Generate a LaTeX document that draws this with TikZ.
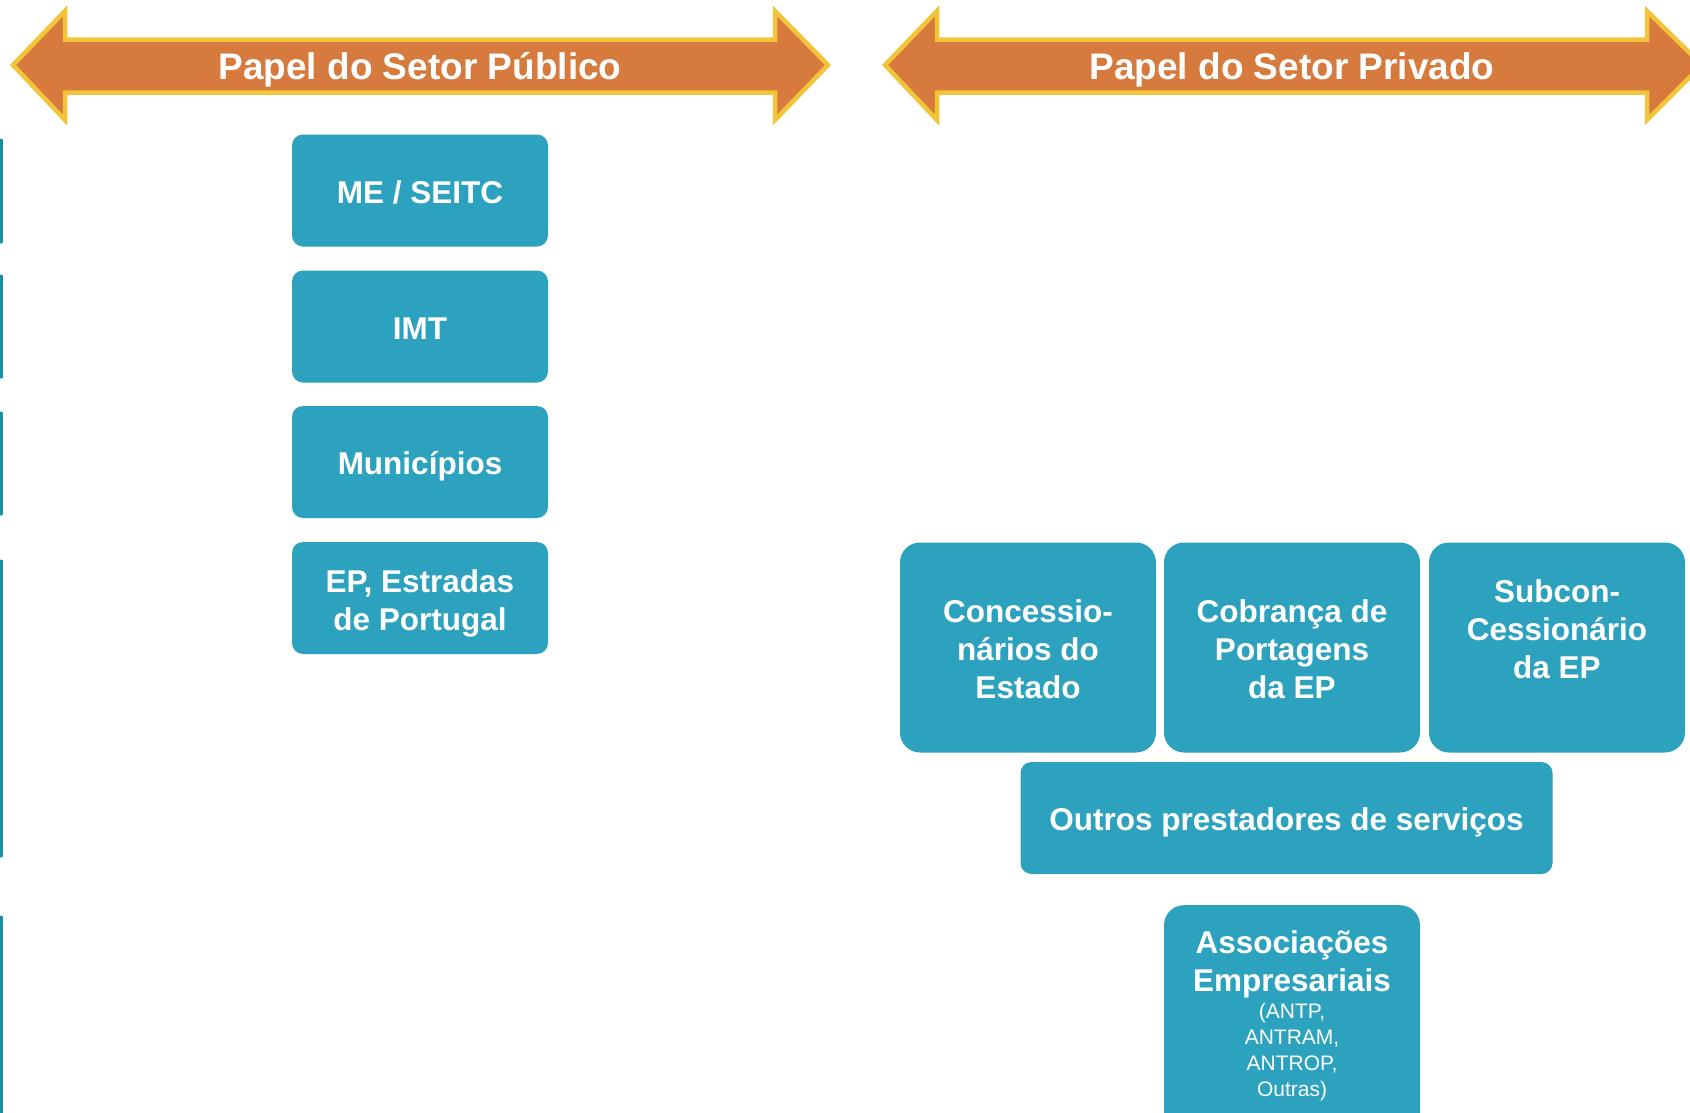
\documentclass[tikz,border=0pt]{standalone}
\usepackage{fontspec}
\setmainfont{Liberation Sans}
\definecolor{boxblue}{HTML}{2DA2BF}
\definecolor{edgeblue}{HTML}{1A90A8}
\definecolor{arroworange}{HTML}{D77A3E}
\definecolor{arrowyellow}{HTML}{F2C43A}
\tikzset{
  bigarrow/.style={fill=arroworange, draw=arrowyellow, line width=4.5pt, line join=miter},
  headtxt/.style={text=white, font=\fontsize{37}{44}\selectfont\bfseries, inner sep=0},
  bluebox/.style={fill=boxblue, draw=none, rounded corners=11pt, minimum width=256pt, minimum height=112pt, inner sep=0},
  bigbox/.style={fill=boxblue, draw=none, rounded corners=20pt, minimum width=256pt, minimum height=210pt, inner sep=0},
  boxtxt/.style={text=white, font=\fontsize{31.5}{38}\selectfont\bfseries, align=center, inner sep=0},
  smalltxt/.style={text=white, font=\fontsize{21}{26}\selectfont, align=center, inner sep=0},
  edgeline/.style={draw=edgeblue, line width=3pt, line cap=round}
}
\begin{document}
\begin{tikzpicture}[x=1pt,y=-1pt]
\clip (0,0) rectangle (1690,1112);
\fill[white] (0,0) rectangle (1690,1112);
% header arrows
\draw[bigarrow] (13,65) -- (65,11) -- (65,39.5) -- (775,39.5) -- (775,11) -- (828,65)
  -- (775,120) -- (775,92.5) -- (65,92.5) -- (65,120) -- cycle;
\node[headtxt] (pubhead) at (420,70.2) {Papel do Setor Público};
\draw[bigarrow] (885,65) -- (937,11) -- (937,39.5) -- (1647,39.5) -- (1647,11) -- (1702,65)
  -- (1647,120) -- (1647,92.5) -- (937,92.5) -- (937,120) -- cycle;
\node[headtxt] (privhead) at (1292,70.2) {Papel do Setor Privado};
% left edge lines
\coordinate (e1a) at (1,140); \coordinate (e1b) at (1,242);
\coordinate (e2a) at (1,276); \coordinate (e2b) at (1,377);
\coordinate (e3a) at (1,413); \coordinate (e3b) at (1,514);
\coordinate (e4a) at (1,561); \coordinate (e4b) at (1,856);
\coordinate (e5a) at (1,917); \coordinate (e5b) at (1,1120);
\draw[edgeline] (e1a) -- (e1b);
\draw[edgeline] (e2a) -- (e2b);
\draw[edgeline] (e3a) -- (e3b);
\draw[edgeline] (e4a) -- (e4b);
\draw[edgeline] (e5a) -- (e5b);
% public boxes
\node[bluebox] (me) at (420,190.5) {};
\node[boxtxt] (metxt) at (420,192.7) {ME / SEITC};
\node[bluebox] (imt) at (420,326.5) {};
\node[boxtxt] (imttxt) at (420,328.7) {IMT};
\node[bluebox] (mun) at (420,462) {};
\node[boxtxt] (muntxt) at (420,466.3) {Municípios};
\node[bluebox] (ep) at (420,598) {};
\node[boxtxt] (eptxt) at (420,603.2) {EP, Estradas\\de Portugal};
% private boxes
\node[bigbox] (conc) at (1028,647.5) {};
\node[boxtxt] (conctxt) at (1028,649) {Concessio-\\nários do\\Estado};
\node[bigbox] (cob) at (1292,647.5) {};
\node[boxtxt] (cobtxt) at (1292,649) {Cobrança de\\Portagens\\da EP};
\node[bigbox] (sub) at (1557,647.5) {};
\node[boxtxt] (subtxt) at (1557,629.5) {Subcon-\\Cessionário\\da EP};
\node[bluebox, minimum width=532pt] (outros) at (1286.5,818) {};
\node[boxtxt] (outrostxt) at (1286.5,822.3) {Outros prestadores de serviços};
\node[bigbox, minimum height=240pt, anchor=north] (assoc) at (1292,905) {};
\node[boxtxt, anchor=center] (assoctxt) at (1292,964) {Associações\\Empresariais};
\node[smalltxt] (assocsub) at (1292,1052.2) {(ANTP,\\ANTRAM,\\ANTROP,\\Outras)};
\end{tikzpicture}
\end{document}
